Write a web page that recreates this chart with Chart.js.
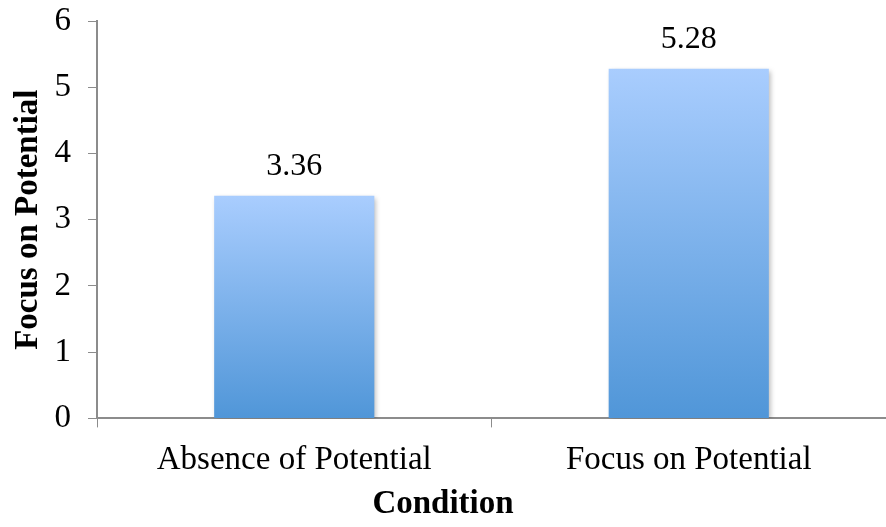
<!DOCTYPE html>
<html>
<head>
<meta charset="utf-8">
<script src="https://cdn.jsdelivr.net/npm/chart.js@4"></script>
<style>
  html, body { margin: 0; padding: 0; background: #fff; }
  #wrap { width: 886px; height: 527px; }
</style>
</head>
<body>
<div id="wrap"><canvas id="chart" width="886" height="527"></canvas></div>
<script>
// --- datos ---
const conditions = ['Absence of Potential', 'Focus on Potential'];
const focusScores = [3.36, 5.28];
const yTicks = [0, 1, 2, 3, 4, 5, 6];

const serif = "'Liberation Serif', 'Times New Roman', serif";
const axisGray = '#8c8c8c';

// sombra suave detras de las barras
const barShadow = {
    id: 'barShadow',
    beforeDatasetsDraw(chart) {
        const c = chart.ctx;
        c.save();
        c.shadowColor = 'rgba(0,0,0,0.28)';
        c.shadowBlur = 5;
        c.shadowOffsetX = 2;
        c.shadowOffsetY = 2;
    },
    afterDatasetsDraw(chart) {
        chart.ctx.restore();
    }
};

// etiquetas de valor encima de cada barra
const valueLabels = {
    id: 'valueLabels',
    afterDraw(chart) {
        const c = chart.ctx;
        const meta = chart.getDatasetMeta(0);
        c.save();
        c.font = '32px ' + serif;
        c.fillStyle = '#000';
        c.textAlign = 'center';
        c.textBaseline = 'alphabetic';
        meta.data.forEach((bar, i) => {
            c.fillText(focusScores[i].toFixed(2), bar.x, bar.y - 21);
        });
        c.restore();
    }
};

function barGradient(context) {
    const chart = context.chart;
    const yScale = chart.scales.y;
    if (!yScale || context.dataIndex === undefined) return '#7fb0ea';
    const top = yScale.getPixelForValue(focusScores[context.dataIndex]);
    const base = yScale.getPixelForValue(0);
    if (!isFinite(top) || !isFinite(base)) return '#7fb0ea';
    const g = chart.ctx.createLinearGradient(0, top, 0, base);
    g.addColorStop(0, '#a9cdfe');
    g.addColorStop(1, '#5096d8');
    return g;
}

new Chart(document.getElementById('chart'), {
    type: 'bar',
    data: {
        labels: conditions,
        datasets: [{
            data: focusScores,
            backgroundColor: barGradient,
            borderWidth: 0,
            categoryPercentage: 0.406,
            barPercentage: 1
        }]
    },
    options: {
        responsive: false,
        animation: false,
        layout: { padding: { top: 21, right: 0, left: 0, bottom: 0 } },
        plugins: {
            legend: { display: false },
            tooltip: { enabled: false },
            // titulo del eje x centrado en todo el ancho, como en el original
            title: {
                display: true,
                position: 'bottom',
                text: 'Condition',
                color: '#000',
                font: { family: serif, size: 33, weight: 'bold', lineHeight: 1.2 },
                padding: { top: 0, bottom: 3 }
            }
        },
        scales: {
            x: {
                afterFit(scale) {
                    scale.height = 66;
                    scale.paddingLeft = 0;
                    scale.paddingRight = 0;
                },
                grid: {
                    drawOnChartArea: false,
                    drawTicks: true,
                    tickLength: 9,
                    color: axisGray,
                    offset: true
                },
                border: { color: axisGray, width: 2 },
                ticks: {
                    color: '#000',
                    font: { family: serif, size: 33 },
                    padding: 13
                }
            },
            y: {
                min: 0,
                max: 6,
                afterFit(scale) {
                    scale.width = 97;
                    scale.paddingTop = 0;
                    scale.paddingBottom = 0;
                },
                afterBuildTicks(scale) {
                    scale.ticks = yTicks.map(v => ({ value: v }));
                },
                grid: {
                    drawOnChartArea: false,
                    drawTicks: true,
                    tickLength: 9,
                    color: axisGray
                },
                border: { color: axisGray, width: 2 },
                ticks: {
                    color: '#000',
                    font: { family: serif, size: 33 },
                    padding: 17
                },
                title: {
                    display: true,
                    text: 'Focus on Potential',
                    color: '#000',
                    font: { family: serif, size: 33, weight: 'bold' },
                    padding: { top: 9, bottom: 0 }
                }
            }
        }
    },
    plugins: [barShadow, valueLabels]
});
</script>
</body>
</html>
